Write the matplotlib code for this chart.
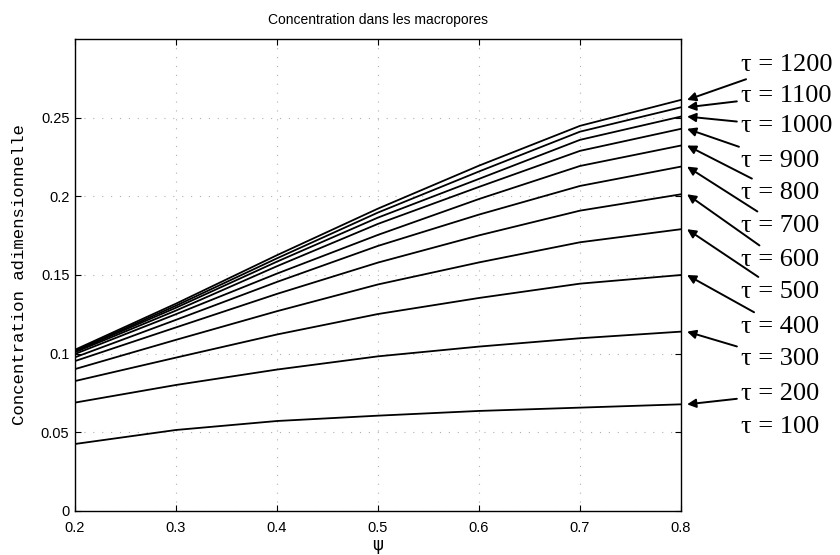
import matplotlib
matplotlib.use('Agg')
import matplotlib.pyplot as plt

# psi values where the curves were read
psi = [0.2, 0.3, 0.4, 0.5, 0.6, 0.7, 0.8]

# concentration curves, bottom to top
c200 = [0.0426, 0.0515, 0.0572, 0.0606, 0.0636, 0.0657, 0.0678]
c300 = [0.0689, 0.0801, 0.0899, 0.0983, 0.1045, 0.1098, 0.1140]
c400 = [0.0826, 0.0975, 0.1122, 0.1252, 0.1354, 0.1445, 0.1500]
c500 = [0.0902, 0.1088, 0.1270, 0.1440, 0.1580, 0.1708, 0.1791]
c600 = [0.0953, 0.1167, 0.1380, 0.1579, 0.1752, 0.1909, 0.2013]
c700 = [0.0977, 0.1215, 0.1456, 0.1685, 0.1884, 0.2066, 0.2189]
c800 = [0.0998, 0.1251, 0.1509, 0.1755, 0.1983, 0.2193, 0.2323]
c900 = [0.1009, 0.1274, 0.1556, 0.1825, 0.2060, 0.2289, 0.2429]
c1000 = [0.1015, 0.1292, 0.1585, 0.1865, 0.2111, 0.2359, 0.2507]
c1100 = [0.1019, 0.1305, 0.1606, 0.1897, 0.2158, 0.2411, 0.2566]
c1200 = [0.1025, 0.1318, 0.1626, 0.1922, 0.2195, 0.2448, 0.2613]

curves = [c200, c300, c400, c500, c600, c700, c800, c900, c1000, c1100, c1200]
curve_labels = ['200', '300', '400', '500', '600', '700', '800', '900',
                '1000', '1100', '1200']

# labels on the right, top to bottom (tau = 100 has no arrow)
tau_labels = ['1200', '1100', '1000', '900', '800', '700', '600', '500',
              '400', '300', '200', '100']
label_ypix = [65, 95.5, 126.5, 161, 193, 226, 260, 291.5, 326.7, 359.3, 394, 426.7]

xticks = [0.2, 0.3, 0.4, 0.5, 0.6, 0.7, 0.8]
xticklabels = ['0.2', '0.3', '0.4', '0.5', '0.6', '0.7', '0.8']
yticks = [0, 0.05, 0.1, 0.15, 0.2, 0.25]
yticklabels = ['0', '0.05', '0.1', '0.15', '0.2', '0.25']

W, H = 840, 555
fig = plt.figure(figsize=(W / 100, H / 100), dpi=100)
ax = fig.add_axes([75 / W, 1 - 511 / H, 606 / W, 472 / H])

for c in curves:
    ax.plot(psi, c, color='black', lw=1.3)

ax.set_xlim(0.2, 0.8)
ax.set_ylim(0, 0.3)
ax.set_xticks(xticks)
ax.set_xticklabels(xticklabels, family='Liberation Sans', fontsize=10.5)
ax.set_yticks(yticks)
ax.set_yticklabels(yticklabels, family='Liberation Sans', fontsize=10.5)
ax.tick_params(direction='in', top=True, right=True, length=4, width=0.8)
ax.tick_params(axis='x', pad=7)
ax.tick_params(axis='y', pad=4)
ax.grid(True, color='#b0b0b0', linestyle=(0, (1, 7)), lw=0.8)
for s in ax.spines.values():
    s.set_linewidth(1.0)

ax.set_title('Concentration dans les macropores', family='Liberation Sans',
             fontsize=10, pad=11)
ax.set_ylabel('Concentration adimensionnelle', family='Liberation Mono',
              fontsize=12.5, labelpad=10)
ax.set_xlabel('\u03c8', fontsize=12, labelpad=1)

# right hand labels with arrows pointing at the end of each curve
for i, lab in enumerate(tau_labels):
    fy = 1 - label_ypix[i] / H
    fx = 741 / W
    txt = '\u03c4 = ' + lab
    if lab in curve_labels:
        c = curves[curve_labels.index(lab)]
        ax.annotate(txt, xy=(0.806, c[-1]), xycoords='data',
                    xytext=(fx, fy), textcoords='figure fraction',
                    ha='left', va='center', fontsize=19,
                    family=['Liberation Serif', 'DejaVu Serif'],
                    annotation_clip=False,
                    arrowprops=dict(arrowstyle='-|>', color='black', lw=1.4,
                                    mutation_scale=13, shrinkA=1, shrinkB=0))
    else:
        fig.text(fx, fy, txt, ha='left', va='center', fontsize=19,
                 family=['Liberation Serif', 'DejaVu Serif'])

fig.savefig('out.png', dpi=100)
